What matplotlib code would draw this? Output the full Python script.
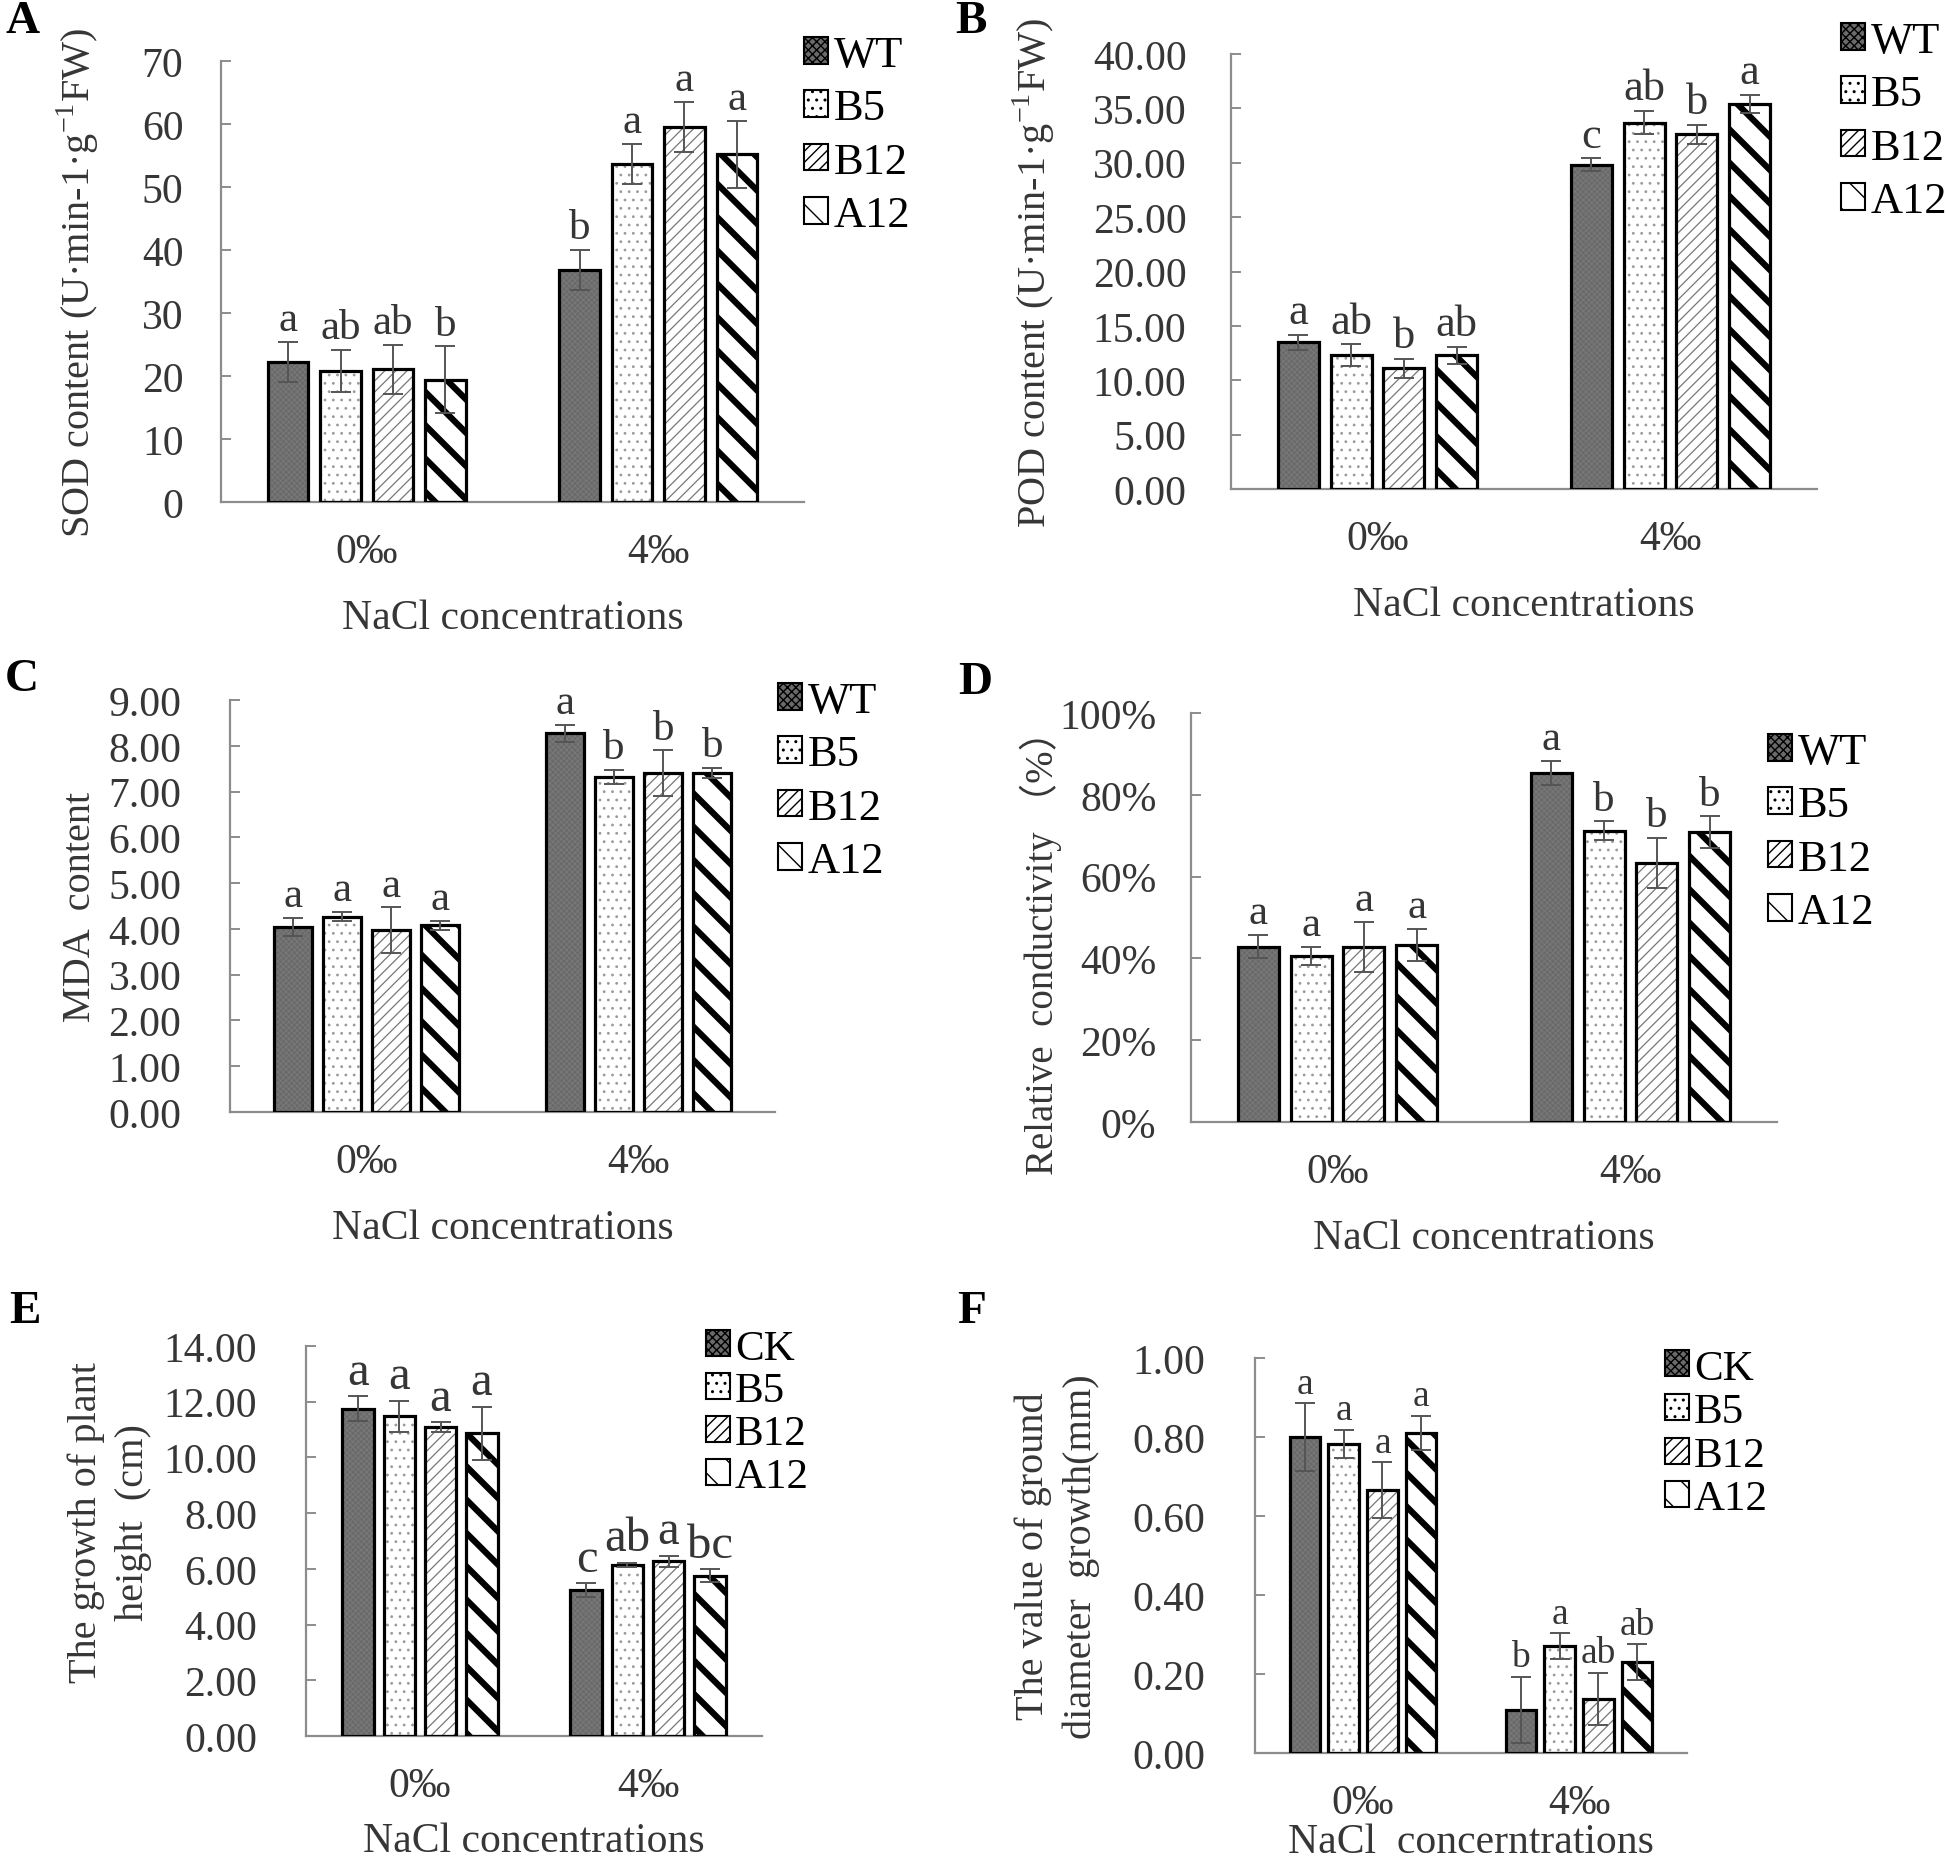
import numpy as np
import matplotlib
matplotlib.use("Agg")
import matplotlib.pyplot as plt
from matplotlib.patches import Patch

plt.rcParams['font.family'] = ['Liberation Serif', 'Noto Sans CJK SC', 'DejaVu Sans']
plt.rcParams['mathtext.fontset'] = 'custom'
plt.rcParams['mathtext.rm'] = 'Liberation Serif'
plt.rcParams['hatch.linewidth'] = 1.0

groups = ['0‰', '4‰']
names_a = ['WT', 'B5', 'B12', 'A12']
names_e = ['CK', 'B5', 'B12', 'A12']

# rows = series (WT/CK, B5, B12, A12), columns = 0‰, 4‰
sod_mean = [[22.2, 36.8], [20.8, 53.6], [21.1, 59.5], [19.4, 55.2]]
sod_err = [[3.2, 3.2], [3.3, 3.2], [3.9, 4.0], [5.3, 5.3]]
sod_let = [['a', 'b'], ['ab', 'a'], ['ab', 'a'], ['b', 'a']]

pod_mean = [[13.5, 29.8], [12.3, 33.7], [11.1, 32.6], [12.3, 35.4]]
pod_err = [[0.7, 0.6], [1.0, 1.1], [0.85, 0.85], [0.8, 0.85]]
pod_let = [['a', 'c'], ['ab', 'ab'], ['b', 'b'], ['ab', 'a']]

mda_mean = [[4.04, 8.27], [4.27, 7.32], [3.97, 7.40], [4.08, 7.40]]
mda_err = [[0.2, 0.19], [0.1, 0.15], [0.5, 0.5], [0.1, 0.11]]
mda_let = [['a', 'a'], ['a', 'b'], ['a', 'b'], ['a', 'b']]

cond_mean = [[42.9, 85.3], [40.7, 71.2], [42.8, 63.3], [43.3, 70.8]]
cond_err = [[2.8, 2.9], [2.2, 2.3], [6.1, 6.1], [4.0, 3.9]]
cond_let = [['a', 'a'], ['a', 'b'], ['a', 'b'], ['a', 'b']]

height_mean = [[11.74, 5.23], [11.47, 6.15], [11.08, 6.27], [10.86, 5.75]]
height_err = [[0.45, 0.25], [0.56, 0.07], [0.18, 0.2], [0.95, 0.23]]
height_let = [['a', 'c'], ['a', 'ab'], ['a', 'a'], ['a', 'bc']]

diam_mean = [[0.80, 0.109], [0.782, 0.270], [0.666, 0.136], [0.810, 0.230]]
diam_err = [[0.085, 0.084], [0.036, 0.033], [0.07, 0.066], [0.044, 0.045]]
diam_let = [['a', 'b'], ['a', 'a'], ['a', 'ab'], ['a', 'ab']]

# fill, hatch, hatch colour, hatch linewidth
styles = [('#6a6a6a', 'xxxxxx', '#7c7c7c', 0.5),
          ('white', '..', '#9a9a9a', 0.8),
          ('white', '///', '#777777', 0.9),
          ('white', '\\', 'black', 4.5)]

TXT = '#363636'
W, H = 1946, 1865
fig = plt.figure(figsize=(W / 100, H / 100), dpi=100)


def px_axes(l, r, t, b):
    return fig.add_axes([l / W, 1 - b / H, (r - l) / W, (b - t) / H])


def draw(ax, mean, err, lets, names, ylim, yticks, fmt, ylabel, ypad,
         ylab_x, ylab_y=0.5, width=0.14, step=0.18, let_size=31,
         xlabel='NaCl concentrations', xlab_pad=20, legend_xy=(0, 0),
         legend_space=0.3, legend_size=32, ylab_size=29):
    x = np.arange(len(groups))
    handles = []
    for i, (fc, hatch, hc, hlw) in enumerate(styles):
        pos = x + (i - 1.5) * step
        with plt.rc_context({'hatch.linewidth': hlw}):
            bars = ax.bar(pos, mean[i], width, color=fc, hatch=hatch,
                          edgecolor=hc, linewidth=0, zorder=2)
        for b in bars:
            if hasattr(b, 'set_hatch_linewidth'):
                b.set_hatch_linewidth(hlw)
        ax.bar(pos, mean[i], width, fill=False, edgecolor='black',
               linewidth=2.3, zorder=3)
        ax.errorbar(pos, mean[i], yerr=err[i], fmt='none', ecolor='#555555',
                    elinewidth=1.4, capsize=7, capthick=1.4, zorder=4)
        for j in range(len(groups)):
            ax.annotate(lets[i][j], (pos[j], mean[i][j] + err[i][j]),
                        xytext=(0, 2), textcoords='offset points',
                        ha='center', va='bottom', fontsize=let_size, color=TXT)
        hp = Patch(facecolor=fc, hatch=hatch if i > 0 else 'xxxx',
                   edgecolor='black', linewidth=1.5)
        if hasattr(hp, 'set_hatch_linewidth'):
            hp.set_hatch_linewidth(min(hlw, 2.0))
        handles.append(hp)
    ax.set_xlim(-0.5, len(groups) - 0.5)
    ax.set_ylim(*ylim)
    ax.set_yticks(yticks)
    ax.set_yticklabels([fmt(v) for v in yticks])
    ax.set_xticks(x)
    ax.set_xticklabels(groups)
    for s in ['top', 'right']:
        ax.spines[s].set_visible(False)
    for s in ['left', 'bottom']:
        ax.spines[s].set_color('#8c8c8c')
        ax.spines[s].set_linewidth(1.6)
    ax.tick_params(axis='y', direction='in', length=7, width=1.4,
                   color='#8c8c8c', pad=ypad, labelsize=30, labelcolor=TXT)
    ax.tick_params(axis='x', length=0, pad=22, labelsize=30, labelcolor=TXT)
    ax.set_xlabel(xlabel, fontsize=30, color=TXT, labelpad=xlab_pad)
    ax.set_ylabel(ylabel, fontsize=ylab_size, color=TXT, va='center',
                  ha='center', linespacing=1.35)
    ax.yaxis.set_label_coords(ylab_x, ylab_y)
    fig.legend(handles, names, loc='upper left',
               bbox_to_anchor=(legend_xy[0] / W, 1 - legend_xy[1] / H),
               frameon=False, borderpad=0, borderaxespad=0,
               handlelength=0.55, handleheight=0.55, handletextpad=0.12,
               labelspacing=legend_space, prop={'size': legend_size})


f_int = lambda v: f'{v:d}'
f_2 = lambda v: f'{v:.2f}'
f_pct = lambda v: f'{v:d}%'

# A
axA = px_axes(221, 804, 62, 503)
draw(axA, sod_mean, sod_err, sod_let, names_a, (0, 70), list(range(0, 71, 10)),
     f_int, 'SOD content (U·min-1·g$^{-1}$FW)', 27, -143 / 583,
     legend_xy=(804, 36))
# B
axB = px_axes(1231, 1817, 55, 490)
draw(axB, pod_mean, pod_err, pod_let, names_a, (0, 40), list(np.arange(0, 41, 5)),
     f_2, 'POD content (U·min-1·g$^{-1}$FW)', 32, -197 / 586,
     legend_xy=(1841, 22), let_size=32)
# C
axC = px_axes(230, 775, 701, 1113)
draw(axC, mda_mean, mda_err, mda_let, names_a, (0, 9), list(range(0, 10)),
     f_2, 'MDA  content', 35, -149 / 545, legend_xy=(778, 682))
# D
axD = px_axes(1191, 1777, 714, 1123)
draw(axD, cond_mean, cond_err, cond_let, names_a, (0, 100), list(range(0, 101, 20)),
     f_pct, 'Relative  conductivity （%）', 25, -150 / 586, ylab_y=0.44,
     legend_xy=(1768, 733), ylab_size=28)
# E
axE = px_axes(306, 762, 1347, 1737)
draw(axE, height_mean, height_err, height_let, names_e, (0, 14), list(range(0, 15, 2)),
     f_2, 'The growth of plant\nheight  (cm)', 35, -196 / 456, ylab_y=0.55,
     let_size=35, xlab_pad=12, legend_xy=(706, 1330), legend_space=0.1,
     legend_size=31)
# F
axF = px_axes(1255, 1687, 1359, 1754)
draw(axF, diam_mean, diam_err, diam_let, names_e, (0, 1.0), list(np.round(np.arange(0, 1.01, 0.2), 2)),
     f_2, 'The value of ground\ndiameter  growth(mm)', 36, -198 / 432,
     let_size=27, xlabel='NaCl  concerntrations', xlab_pad=0,
     legend_xy=(1665, 1350), legend_space=0.12, legend_size=31)

for lab, (lx, ly) in zip('ABCDEF', [(5, 22), (955, 22), (5, 680), (958, 683),
                                    (9, 1312), (957, 1312)]):
    fig.text(lx / W, 1 - ly / H, lab, fontsize=34, fontweight='bold',
             ha='left', va='center', color='black')

fig.savefig('out.png', dpi=100, facecolor='white')
